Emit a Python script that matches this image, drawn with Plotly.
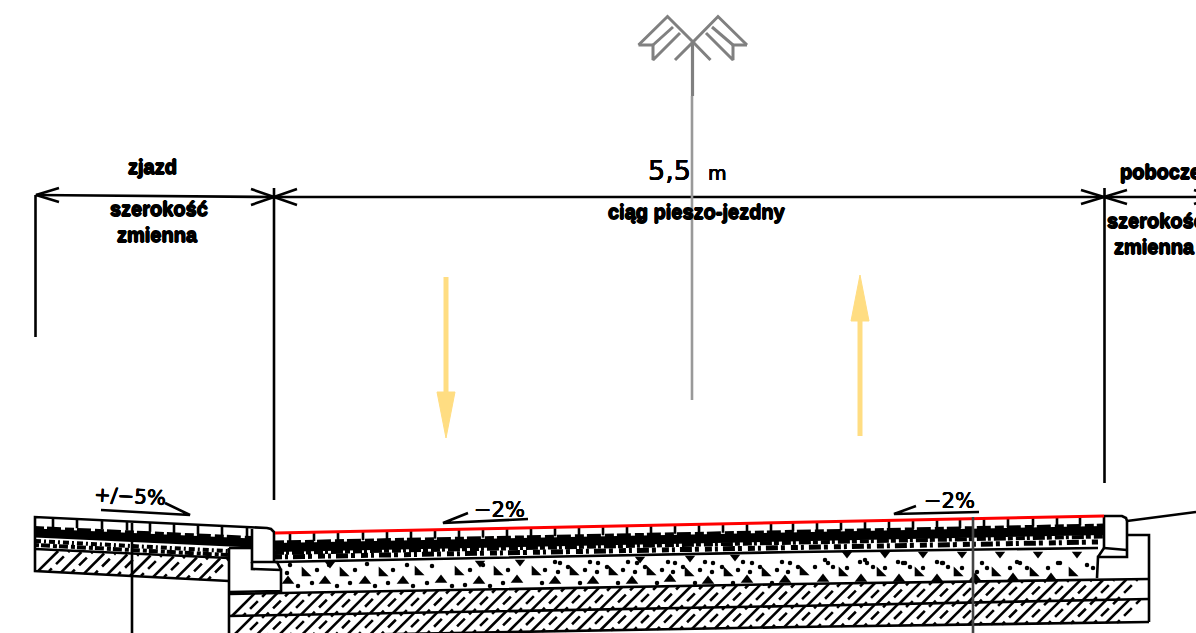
import plotly.graph_objects as go

# ---------- outline geometry (x, y in drawing units) ----------
DIM_MAIN = [(36, 195), (274, 197), (1196, 197)]
DIM_ARROWS = [
    [(59, 188), (36, 195), (59, 202)],
    [(251, 189), (274, 197), (251, 205)],
    [(297, 189), (274, 197), (297, 205)],
    [(1081, 190), (1104, 197), (1081, 204)],
    [(1127, 190), (1104, 197), (1127, 204)],
    [(1194, 190), (1197, 191)],
    [(1194, 204), (1197, 203)],
]
DIM_VERTICALS = [[(35.5, 195), (35.5, 337)], [(274, 188), (274, 500)], [(1104.5, 188), (1104.5, 483)]]

SLAB_OUTLINE = [(229, 581), (35, 571), (35, 517), (267, 528), (271, 529), (274, 532), (274, 563)]
SLAB_LAYER = [(35, 549), (229, 558)]
CURB_LEFT = [
    [(252, 529), (252, 562), (277, 562), (281, 570)],
    [(252, 562), (252, 569), (281, 570), (281, 591), (229, 592)],
    [(229, 548), (252, 548)],
    [(229, 548), (229, 640)],
]
BASE_TOP = [(229, 594), (796, 584), (1149, 579)]
BASE_MID = [(229, 616), (400, 613), (796, 606), (1149, 599)]
BASE_BOTTOM = [(229, 637), (796, 627), (1149, 622)]
CURB_RIGHT = [
    [(1104, 516), (1122, 516), (1126, 518), (1127, 521), (1127, 557), (1098, 557), (1097, 578)],
    [(1104, 548), (1127, 550)],
    [(1104, 548), (1098, 557)],
    [(1104, 516), (1104, 548)],
    [(1128, 535), (1149, 535), (1149, 622)],
]
SAND_LINE = [(275, 562), (796, 552), (1098, 548)]
RIGHT_SLOPE = [(1127, 521), (1196, 512)]
RED_SURFACE = [(275, 533), (1104, 516)]
DARK_VERTICALS = [[(132, 523), (132, 640)]]
GREY_VERTICAL = [(973, 517), (973, 640)]

# ---------- tile joints ----------
TILE_X = [290, 314, 338, 363, 387, 411, 435, 459, 483, 507, 531, 555, 579, 603, 627, 651, 675, 699,
          723, 747, 771, 793, 817, 841, 865, 889, 913, 937, 960, 984, 1008, 1033, 1057, 1080]
TILE_Y = [532.7, 532.2, 531.7, 531.2, 530.7, 530.2, 529.7, 529.2, 528.7, 528.2, 527.8, 527.3, 526.8,
          526.3, 525.8, 525.3, 524.8, 524.3, 523.8, 523.3, 522.8, 522.4, 521.9, 521.4, 520.9, 520.4,
          519.9, 519.4, 519, 518.5, 518, 517.5, 517, 516.5]
SLAB_TILE_X = [53, 77, 102, 127, 150, 174, 198, 222, 247]
SLAB_TILE_Y = [518, 519.2, 520.4, 521.6, 522.8, 524, 525.1, 526.3, 527.5]

# ---------- hatching ----------
HATCH_X = [232, 255, 278, 301, 324, 347, 370, 393, 416, 439, 462, 485, 508, 531, 554, 577, 600, 623, 646, 669,
           692, 715, 738, 761, 784, 807, 830, 853, 876, 899, 922, 945, 968, 991, 1014, 1037, 1060, 1083, 1106]
HATCH_X_BROKEN = [243, 266, 289, 312, 335, 358, 381, 404, 427, 450, 473, 496, 519, 542, 565, 588, 611, 634, 657,
                  680, 703, 726, 749, 772, 795, 818, 841, 864, 887, 910, 933, 956, 979, 1002, 1025, 1048, 1071,
                  1094, 1117]
UPPER_LOW = [616, 615.5, 615, 614.6, 614.2, 613.8, 613.4, 613, 612.6, 612.2, 611.8, 611.4, 611, 610.6, 610.2,
             609.8, 609.4, 609, 608.6, 608.2, 607.8, 607.4, 607, 606.6, 606.2, 605.8, 605.4, 605, 604.5, 604,
             603.5, 603, 602.5, 602, 601.5, 601, 600.5, 600, 600]
UPPER_HIGH = [593.6, 593.2, 592.8, 592.4, 592, 591.6, 591.2, 590.8, 590.4, 590, 589.6, 589.2, 588.8, 588.4, 588,
              587.6, 587.2, 586.8, 586.4, 586, 585.6, 585.2, 584.8, 584.4, 584, 583.6, 583.3, 583, 582.7, 582.4,
              582.1, 581.8, 581.5, 581.2, 580.9, 580.6, 580.3, 580, 579.7]
LOWER_LOW = [637, 636.5, 636, 635.7, 635.3, 635, 634.6, 634.2, 633.8, 633.4, 633, 632.5, 632.1, 631.7, 631.3, 631,
             630.5, 630.1, 629.7, 629.3, 628.9, 628.5, 628.1, 627.7, 627.3, 626.9, 626.6, 626.4, 626.1, 625.8,
             625.4, 625.2, 624.9, 624.6, 624.2, 623.9, 623.6, 623.2, 622.9]
LOWER_HIGH = [615.6, 615.1, 614.6, 614.2, 613.8, 613.4, 613, 612.6, 612.2, 611.8, 611.4, 611, 610.6, 610.2, 609.8,
              609.4, 609, 608.6, 608.2, 607.8, 607.4, 607, 606.6, 606.2, 605.8, 605.4, 605, 604.6, 604.1, 603.6,
              603.1, 602.6, 602.1, 601.6, 601.1, 600.6, 600.1, 600, 599.6]
SLAB_HATCH_X = [38, 61, 84, 107, 130, 153, 176, 199]
SLAB_HATCH_X_BROKEN = [49, 72, 95, 118, 141, 164, 187, 208]
SLAB_HATCH_LOW = [571.2, 572.4, 573.6, 574.8, 576, 577.2, 578.4, 579.6]
SLAB_HATCH_HIGH = [551, 552, 553.5, 554.5, 555.5, 556.5, 557.5, 558.5]

# ---------- gravel ----------
TRI_UP_X = [288, 325, 365, 403, 441, 479, 517, 555, 593, 632, 670, 708, 747, 785, 823, 861, 899, 937, 975, 1013, 1051]
TRI_UP_Y = [581, 581, 581, 581, 580, 581, 580, 581, 581, 581, 579, 581, 580, 580, 579, 579, 579, 579, 578, 578, 578]
TRI_SW_X = [305, 343, 382, 418, 458, 497, 535, 573, 612, 650, 688, 727, 765, 803, 842, 880, 918, 957, 995, 1033, 1072]
TRI_SW_Y = [573, 573, 573, 572, 572, 572, 572, 572, 572, 572, 573, 573, 573, 572, 573, 573, 573, 573, 573, 573, 573]
TRI_DOWN_X = [847, 885, 923, 962, 1000, 1038, 1077, 330, 480, 520, 640, 690, 735]
TRI_DOWN_Y = [554, 554, 554, 554, 554, 554, 554, 564, 563, 562, 559, 558, 557]
DOT_X = [298, 312, 317, 290, 287, 329, 337, 350, 355, 367, 375, 388, 393, 407, 413, 427, 432, 452, 465, 470, 483, 490,
         503, 508, 545, 558, 555, 560, 568, 585, 597, 590, 598, 607, 623, 635, 628, 637, 645, 662, 673, 668, 675, 683,
         700, 712, 705, 713, 722, 738, 750, 743, 752, 760, 777, 788, 782, 790, 798, 542, 580, 618, 657, 695, 733, 772,
         815, 825, 833, 847, 860, 873, 865, 885, 898, 910, 903, 923, 937, 948, 942, 962, 977, 987, 1010, 1017, 1027,
         1048, 1060, 1087, 1093, 828, 867, 905, 943, 982, 1020, 1058]
DOT_Y = [586, 583, 570, 565, 573, 565, 586, 583, 570, 564, 586, 583, 570, 565, 586, 583, 566, 586, 585, 570, 565, 586,
         583, 570, 570, 572, 562, 563, 567, 570, 572, 562, 563, 567, 570, 572, 562, 563, 567, 570, 572, 562, 563, 567,
         570, 572, 562, 563, 567, 570, 572, 562, 563, 567, 570, 572, 562, 563, 567, 583, 583, 583, 583, 583, 583, 583,
         567, 560, 567, 568, 562, 567, 560, 568, 562, 567, 563, 568, 562, 567, 563, 568, 572, 568, 568, 562, 568, 568,
         563, 565, 568, 563, 563, 563, 563, 563, 563, 563]

# ---------- bedding bands ----------
BAND_MAIN = [(275, 547.5), (1104, 530.5)]
BAND_TOP = [(275, 543), (1104, 526)]
BAND_BELOW = [(275, 553), (1104, 536.5)]
SAND_A = [(275, 557), (1098, 542)]
SLAB_BAND = [(35, 533), (252, 543)]
SLAB_BAND_TOP = [(35, 528), (252, 538)]
SLAB_SAND_A = [(35, 541), (228, 551)]
SLAB_SAND_B = [(35, 545), (228, 555)]

# ---------- lamp and arrows ----------
POLE_UPPER = [(692.5, 42), (692.5, 96)]
POLE_LOWER = [(692, 96), (692, 400)]
LAMP = [
    [(747, 45), (718, 16.5), (693, 42), (675, 60)],
    [(638.5, 45), (667.5, 16.5), (693, 42), (710.5, 60)],
    [(638.5, 45), (653, 45), (653, 60), (680, 33)],
    [(653, 45), (673, 27)],
    [(747, 45), (733, 45), (733, 60), (706, 33)],
    [(733, 45), (712, 27)],
]
ARROW_DOWN_STEM = [(446, 277), (446, 395)]
ARROW_DOWN_HEAD = [(437, 392), (455, 392), (446, 438), (437, 392)]
ARROW_UP_STEM = [(860, 436), (860, 318)]
ARROW_UP_HEAD = [(851, 321), (869, 321), (860, 275), (851, 321)]
SLOPE_MARKS = [
    [(101, 510), (190, 515), (165, 503)],
    [(528, 519), (443, 523), (468, 513)],
    [(979, 512), (894, 514), (916, 506)],
]

# ---------- labels ----------
BOLD_LABELS = ["zjazd", "szerokość", "zmienna", "ciąg pieszo-jezdny", "pobocze", "szerokość", "zmienna"]
BOLD_X = [126, 108, 115, 606, 1118, 1105, 1112]
BOLD_Y = [167, 209, 235, 212, 172, 221, 247]
CAD_LABELS = ["5,5\u00a0\u00a0<span style='font-size:19px'>m</span>", "+/−5%", "−2%", "−2%"]
CAD_X = [646, 91, 472, 922]
CAD_Y = [170, 496, 510, 501]
CAD_SIZE = [27, 20, 21, 21]
CAD_ANGLE = [0, 3, 0, 0]


def path(*polys):
    xs, ys = [], []
    for p in polys:
        xs += [q[0] for q in p] + [None]
        ys += [q[1] for q in p] + [None]
    return xs, ys


def line(fig, polys, color="#000000", width=2.6, dash=None, fill=None):
    xs, ys = path(*polys)
    fig.add_trace(go.Scatter(x=xs, y=ys, mode="lines", hoverinfo="skip",
                             line=dict(color=color, width=width, dash=dash, simplify=False),
                             fill=fill, fillcolor=color if fill else None))


def hatch(xs, low, high, limit=1149):
    segs = []
    for x, a, b in zip(xs, low, high):
        segs.append([(x, a), (min(x + a - b, limit), b + max(0, x + a - b - limit))])
    return segs


fig = go.Figure()

# hatching: solid diagonals alternate with broken ones
BROKEN_DASH = "4px,6px,11px,6px,8px"
line(fig, hatch(HATCH_X, UPPER_LOW, UPPER_HIGH), width=2.6)
line(fig, hatch(HATCH_X, LOWER_LOW, LOWER_HIGH), width=2.6)
line(fig, hatch(SLAB_HATCH_X, SLAB_HATCH_LOW, SLAB_HATCH_HIGH), width=2.6)
line(fig, hatch(HATCH_X_BROKEN, UPPER_LOW, UPPER_HIGH), width=2.6, dash=BROKEN_DASH)
line(fig, hatch(HATCH_X_BROKEN, LOWER_LOW, LOWER_HIGH), width=2.6, dash=BROKEN_DASH)
line(fig, hatch(SLAB_HATCH_X_BROKEN, SLAB_HATCH_LOW, SLAB_HATCH_HIGH), width=2.6, dash=BROKEN_DASH)

# gravel
fig.add_trace(go.Scatter(x=TRI_UP_X, y=TRI_UP_Y, mode="markers", hoverinfo="skip",
                         marker=dict(symbol="triangle-up", size=11, color="#000000", line=dict(width=0))))
fig.add_trace(go.Scatter(x=TRI_SW_X, y=TRI_SW_Y, mode="markers", hoverinfo="skip",
                         marker=dict(symbol="triangle-sw", size=11, color="#000000", line=dict(width=0))))
fig.add_trace(go.Scatter(x=TRI_DOWN_X, y=TRI_DOWN_Y, mode="markers", hoverinfo="skip",
                         marker=dict(symbol="triangle-down", size=9, color="#000000", line=dict(width=0))))
fig.add_trace(go.Scatter(x=DOT_X, y=DOT_Y, mode="markers", hoverinfo="skip",
                         marker=dict(symbol="circle", size=4.5, color="#000000", line=dict(width=0))))

# bedding bands
line(fig, [BAND_MAIN], width=9)
line(fig, [BAND_TOP], width=5, dash="9px,3px,14px,4px")
line(fig, [BAND_BELOW], width=4, dash="9px,2px,3px,3px,12px,2px,5px,3px")
line(fig, [SAND_A], width=5, dash="7px,3px,3px,5px,12px,3px,4px,6px")
line(fig, [SLAB_BAND], width=9)
line(fig, [SLAB_BAND_TOP], width=4, dash="9px,3px,14px,4px")
line(fig, [SLAB_SAND_A], width=4, dash="6px,3px,2px,3px")
line(fig, [SLAB_SAND_B], width=4, dash="4px,2px,9px,3px")

# tile joints
line(fig, [[(x, y), (x, y + 9)] for x, y in zip(TILE_X, TILE_Y)])
line(fig, [[(x, y), (x, y + 9)] for x, y in zip(SLAB_TILE_X, SLAB_TILE_Y)])

# outlines
line(fig, [SLAB_OUTLINE, SLAB_LAYER, BASE_TOP, BASE_MID, BASE_BOTTOM, SAND_LINE, RIGHT_SLOPE])
line(fig, CURB_LEFT + CURB_RIGHT)
line(fig, [RED_SURFACE], color="#ff0000", width=3)
line(fig, DARK_VERTICALS)
line(fig, [GREY_VERTICAL], color="#444444", width=2.6)

# dimensions
line(fig, [DIM_MAIN] + DIM_ARROWS + DIM_VERTICALS)
line(fig, SLOPE_MARKS)

# lamp
line(fig, LAMP, color="#808080", width=3)
line(fig, [POLE_UPPER], color="#808080", width=3.2)
line(fig, [POLE_LOWER], color="#999999", width=2.6)

# arrows
YELLOW = "#ffdd82"
line(fig, [ARROW_DOWN_STEM, ARROW_UP_STEM], color=YELLOW, width=5)
line(fig, [ARROW_DOWN_HEAD], color=YELLOW, width=1, fill="toself")
line(fig, [ARROW_UP_HEAD], color=YELLOW, width=1, fill="toself")

annotations = []
BOLD_SHADOW = "0.7px 0 0 #000, -0.7px 0 0 #000, 0 0.7px 0 #000, 0 -0.7px 0 #000"
CAD_SHADOW = "0.3px 0 0 #000, -0.3px 0 0 #000, 0 0.3px 0 #000, 0 -0.3px 0 #000"
for t, x, y in zip(BOLD_LABELS, BOLD_X, BOLD_Y):
    annotations.append(dict(x=x, y=y, text="<b>" + t + "</b>", showarrow=False, xref="x", yref="y",
                            xanchor="left", yanchor="middle",
                            font=dict(family="Liberation Sans", size=20, color="#000000", shadow=BOLD_SHADOW)))
for t, x, y, s, a in zip(CAD_LABELS, CAD_X, CAD_Y, CAD_SIZE, CAD_ANGLE):
    annotations.append(dict(x=x, y=y, text=t, showarrow=False, xref="x", yref="y", xanchor="left", yanchor="middle",
                            textangle=a, font=dict(family="DejaVu Sans", size=s, color="#000000", shadow=CAD_SHADOW)))

fig.update_layout(
    width=1196, height=633, autosize=False,
    margin=dict(l=0, r=0, t=0, b=0, pad=0),
    paper_bgcolor="#ffffff", plot_bgcolor="#ffffff",
    showlegend=False, annotations=annotations,
    xaxis=dict(range=[0, 1196], visible=False, fixedrange=True),
    yaxis=dict(range=[633, 0], visible=False, fixedrange=True),
)

fig.write_html("out.html", config=dict(displayModeBar=False),
               post_script="document.body.style.margin='0';document.body.style.overflow='hidden';")
